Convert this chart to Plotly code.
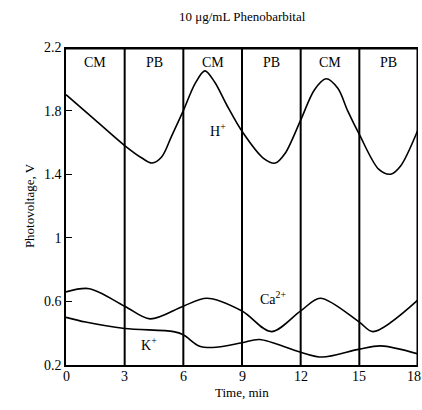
import plotly.graph_objects as go

title = "10 \u03bcg/mL Phenobarbital"
x_title = "Time, min"
y_title = "Photovoltage, V"
boundaries = [3, 6, 9, 12, 15]
phase_labels = ["CM", "PB", "CM", "PB", "CM", "PB"]
phase_centers = [1.5, 4.5, 7.5, 10.5, 13.5, 16.5]

h_x = [0, 1.5, 3, 3.9, 4.4, 4.9, 5.4, 6, 6.6, 7.1, 7.6, 8.2, 9, 10.1, 10.7, 11.2, 12, 12.7, 13.3, 13.9, 14.4, 15, 16.0, 16.6, 17.1, 18]
h_y = [1.90, 1.74, 1.58, 1.50, 1.47, 1.51, 1.64, 1.80, 1.97, 2.05, 1.98, 1.84, 1.67, 1.50, 1.47, 1.53, 1.74, 1.93, 2.00, 1.94, 1.80, 1.65, 1.43, 1.40, 1.45, 1.68]

ca_x = [0, 1.2, 3, 4.3, 6, 7.2, 9, 10.5, 12, 13, 15, 15.7, 18]
ca_y = [0.66, 0.68, 0.57, 0.49, 0.57, 0.62, 0.54, 0.41, 0.54, 0.62, 0.47, 0.41, 0.61]

k_x = [0, 1, 3, 5.5, 6, 6.8, 7.5, 9, 9.9, 12, 13.1, 15, 16.1, 18]
k_y = [0.50, 0.47, 0.43, 0.41, 0.39, 0.32, 0.31, 0.34, 0.36, 0.28, 0.25, 0.30, 0.32, 0.27]

x_ticks = [0, 3, 6, 9, 12, 15, 18]
y_ticks = [0.2, 0.6, 1.0, 1.4, 1.8, 2.2]
y_tick_text = ["0.2", "0.6", "1", "1.4", "1.8", "2.2"]

FONT = "Liberation Serif, Times New Roman, serif"
fig = go.Figure()
for xs, ys in [(h_x, h_y), (ca_x, ca_y), (k_x, k_y)]:
    fig.add_trace(go.Scatter(x=xs, y=ys, mode="lines",
                             line=dict(color="black", width=1.6, shape="spline", smoothing=0.9),
                             showlegend=False, hoverinfo="skip"))

shapes = []
for b in boundaries:
    shapes.append(dict(type="line", xref="x", yref="y", x0=b, x1=b, y0=0.2, y1=2.2,
                       line=dict(color="black", width=2)))
shapes.append(dict(type="line", xref="x", yref="y", x0=0, x1=18, y0=2.2, y1=2.2,
                   line=dict(color="black", width=5)))
shapes.append(dict(type="line", xref="x", yref="y", x0=18, x1=18, y0=0.2, y1=2.2,
                   line=dict(color="black", width=3)))

f14 = dict(family=FONT, size=14, color="black")
annotations = []
for lab, cx in zip(phase_labels, phase_centers):
    annotations.append(dict(x=cx, y=2.1, text=lab, showarrow=False, font=f14))
annotations.append(dict(x=7.75, y=1.68, text="H<sup>+</sup>", showarrow=False, font=f14))
annotations.append(dict(x=10.6, y=0.62, text="Ca<sup>2+</sup>", showarrow=False, font=f14))
annotations.append(dict(x=4.25, y=0.335, text="K<sup>+</sup>", showarrow=False, font=f14))
for i, t in enumerate(x_ticks):
    annotations.append(dict(x=t, y=0.2, xref="x", yref="y", yanchor="top", yshift=-2,
                            xshift=(-4 if i == len(x_ticks) - 1 else 0),
                            text=str(t), showarrow=False, font=f14))
annotations.append(dict(x=0.5, y=0, xref="paper", yref="paper", yanchor="top", yshift=-18,
                        text=x_title, showarrow=False, font=dict(family=FONT, size=13, color="black")))
annotations.append(dict(x=0.5, y=1.0, xref="paper", yref="paper", yanchor="bottom",
                        yshift=21, text=title, showarrow=False,
                        font=dict(family=FONT, size=13, color="black")))

fig.update_layout(
    width=422, height=410,
    margin=dict(l=66, r=4, t=47, b=45),
    paper_bgcolor="white", plot_bgcolor="white",
    font=dict(family=FONT, size=13, color="black"),
    shapes=shapes, annotations=annotations,
    xaxis=dict(range=[0, 18], tickvals=x_ticks, showticklabels=False, automargin=False,
               showgrid=False, zeroline=False, showline=True, linecolor="black", linewidth=1.5,
               ticks=""),
    yaxis=dict(range=[0.2, 2.2], tickvals=y_ticks, ticktext=y_tick_text, automargin=False,
               showgrid=False, zeroline=False, showline=True, linecolor="black", linewidth=1.5,
               ticks="inside", ticklen=6, tickcolor="black", tickwidth=1,
               title=dict(text=y_title, font=dict(family=FONT, size=13), standoff=6),
               tickfont=dict(family=FONT, size=14)),
)
fig.write_html("out.html", config={"displayModeBar": False},
               post_script="document.body.style.margin='0';document.body.style.overflow='hidden';")
